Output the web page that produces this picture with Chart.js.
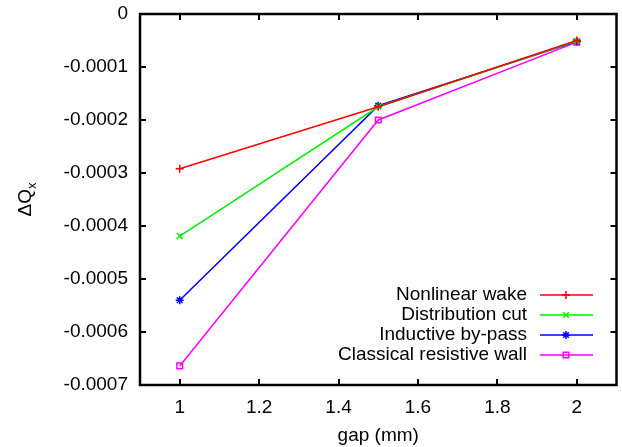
<!DOCTYPE html>
<html>
<head>
<meta charset="utf-8">
<script src="https://cdn.jsdelivr.net/npm/chart.js@4.4.1/dist/chart.umd.min.js"></script>
<style>
  html, body { margin: 0; padding: 0; background: #fff; }
  #wrap { width: 622px; height: 447px; }
</style>
</head>
<body>
<div id="wrap"><canvas id="tuneChart"></canvas></div>
<script>
// gap values (mm) and tune shift for each wake model
const gaps = [1, 1.5, 2];
const nonlinearWake = [-0.000292, -0.000175, -0.000050];
const distributionCut = [-0.000419, -0.000175, -0.000051];
const inductiveBypass = [-0.000540, -0.000173, -0.000052];
const classicalWall = [-0.000664, -0.000200, -0.000053];

const xTicks = [1, 1.2, 1.4, 1.6, 1.8, 2];
const yTicks = [0, -0.0001, -0.0002, -0.0003, -0.0004, -0.0005, -0.0006, -0.0007];

const FONT = 'Liberation Sans, Arial, sans-serif';
const FS = 19;

function pts(ys) {
  return gaps.map((g, i) => ({ x: g, y: ys[i] }));
}

// box, mirrored inner ticks, legend and y label, gnuplot style
const gnuplotFrame = {
  id: 'gnuplotFrame',
  afterDatasetsDraw(chart) {
    const ctx = chart.ctx;
    const a = chart.chartArea;
    const xs = chart.scales.x, ys = chart.scales.y;
    ctx.save();
    ctx.strokeStyle = '#000';
    ctx.lineWidth = 2;
    ctx.beginPath();
    xTicks.forEach(v => {
      const px = Math.round(xs.getPixelForValue(v));
      ctx.moveTo(px, a.bottom); ctx.lineTo(px, a.bottom - 6);
      ctx.moveTo(px, a.top); ctx.lineTo(px, a.top + 6);
    });
    yTicks.forEach(v => {
      const py = Math.round(ys.getPixelForValue(v));
      ctx.moveTo(a.left, py); ctx.lineTo(a.left + 6, py);
      ctx.moveTo(a.right, py); ctx.lineTo(a.right - 6, py);
    });
    ctx.stroke();
    ctx.lineWidth = 2.5;
    ctx.strokeRect(a.left, a.top, a.right - a.left, a.bottom - a.top);

    // legend, bottom right inside the box
    const ds = chart.data.datasets;
    ctx.font = FS + 'px ' + FONT;
    ctx.textAlign = 'right';
    ctx.textBaseline = 'middle';
    ds.forEach((d, i) => {
      const y = 295 + i * 20;
      ctx.fillStyle = '#000';
      ctx.fillText(d.label, 527, y);
      ctx.strokeStyle = d.borderColor;
      ctx.lineWidth = 1.5;
      ctx.beginPath();
      ctx.moveTo(540, y); ctx.lineTo(593, y);
      ctx.stroke();
      ctx.fillStyle = 'rgba(0,0,0,0)';
      ctx.lineWidth = 1.5;
      Chart.helpers.drawPoint(ctx, {
        pointStyle: d.pointStyle, radius: d.pointRadius, rotation: 0,
        borderWidth: 1.5
      }, 566, y);
    });

    // y axis title, rotated, with subscript
    ctx.translate(26, (a.top + a.bottom) / 2);
    ctx.rotate(-Math.PI / 2);
    ctx.fillStyle = '#000';
    ctx.textAlign = 'left';
    ctx.textBaseline = 'middle';
    const main = '\u0394Q';
    ctx.font = FS + 'px ' + FONT;
    const w1 = ctx.measureText(main).width;
    ctx.font = '13px ' + FONT;
    const w2 = ctx.measureText('x').width;
    const start = -(w1 + w2) / 2;
    ctx.font = FS + 'px ' + FONT;
    ctx.fillText(main, start, 0);
    ctx.font = '13px ' + FONT;
    ctx.fillText('x', start + w1, 6);
    ctx.restore();
  }
};

function series(label, data, color, style) {
  return {
    label: label,
    data: pts(data),
    borderColor: color,
    backgroundColor: color,
    borderWidth: 1.5,
    pointStyle: style,
    pointRadius: 4,
    pointBorderWidth: 1.5,
    pointBackgroundColor: 'rgba(0,0,0,0)',
    pointBorderColor: color,
    tension: 0
  };
}

const ctx = document.getElementById('tuneChart').getContext('2d');
new Chart(ctx, {
  type: 'line',
  data: {
    datasets: [
      series('Nonlinear wake', nonlinearWake, '#ff0000', 'cross'),
      series('Distribution cut', distributionCut, '#00ee00', 'crossRot'),
      series('Inductive by-pass', inductiveBypass, '#0000ff', 'star'),
      series('Classical resistive wall', classicalWall, '#ff00ff', 'rect')
    ]
  },
  options: {
    responsive: true,
    maintainAspectRatio: false,
    animation: false,
    layout: { padding: { top: 14, right: 2, left: 0, bottom: 0 } },
    plugins: {
      legend: { display: false },
      tooltip: { enabled: false }
    },
    scales: {
      x: {
        type: 'linear',
        min: 0.9,
        max: 2.1,
        afterBuildTicks: s => { s.ticks = xTicks.map(v => ({ value: v })); },
        afterFit: s => { s.height = 62; s.paddingLeft = 0; s.paddingRight = 0; },
        grid: { display: false, drawTicks: false },
        border: { display: false },
        ticks: {
          padding: 11,
          color: '#000',
          font: { family: FONT, size: FS },
          maxRotation: 0,
          callback: v => String(v)
        },
        title: {
          display: true,
          text: 'gap (mm)',
          color: '#000',
          font: { family: FONT, size: FS },
          padding: { top: 3, bottom: 0 }
        }
      },
      y: {
        type: 'linear',
        min: -0.0007,
        max: 0,
        afterBuildTicks: s => { s.ticks = yTicks.map(v => ({ value: v })); },
        afterFit: s => { s.width = 140; s.paddingTop = 0; s.paddingBottom = 0; },
        grid: { display: false, drawTicks: false },
        border: { display: false },
        ticks: {
          padding: 12,
          color: '#000',
          font: { family: FONT, size: FS },
          callback: v => (v === 0 ? '0' : v.toFixed(4))
        }
      }
    }
  },
  plugins: [gnuplotFrame]
});
</script>
</body>
</html>
